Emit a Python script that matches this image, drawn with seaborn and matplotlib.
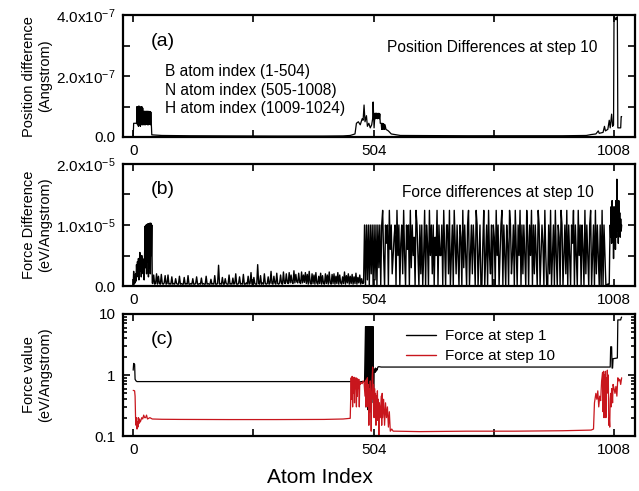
import numpy as np
import pandas as pd
import matplotlib
matplotlib.use("Agg")
import matplotlib.pyplot as plt
import seaborn as sns
from matplotlib.ticker import FixedLocator, FuncFormatter, LogLocator, NullFormatter

# ---------------- data ----------------
# Panel (a): position difference at step 10 (units of 1e-7 Angstrom)
pos_atom = [0, 1, 7,
            8, 9, 10, 11, 12, 13, 14, 15, 16, 17, 18, 19, 20, 21, 22,
            23, 24, 25, 26, 27, 28, 29, 30, 31, 32, 33, 34, 35, 36, 37, 38, 39,
            60, 120, 200, 300, 400, 440, 455, 465, 468, 472, 476, 480, 482, 484, 486,
            489, 491, 494, 497, 500, 502, 503, 505, 507, 508, 509, 510, 511, 512, 513,
            514, 515, 516, 517, 518, 520, 521, 522, 523, 524, 525, 526, 527, 528, 530,
            535, 541, 560, 700, 900, 950, 960, 970, 975, 977, 985, 988, 990, 995, 998,
            1000, 1003, 1005, 1007, 1008, 1011, 1012, 1013, 1015, 1016, 1022, 1023, 1024]
pos_diff = [0.02, 0.45, 0.45,
            1.0, 0.4, 1.0, 0.35, 1.02, 0.4, 1.0, 0.35, 0.98, 0.4, 1.0, 0.4, 0.95, 0.4, 0.45,
            0.85, 0.4, 0.84, 0.4, 0.85, 0.42, 0.84, 0.4, 0.85, 0.4, 0.83, 0.42, 0.84, 0.4, 0.82, 0.45, 0.07,
            0.05, 0.04, 0.035, 0.03, 0.03, 0.035, 0.05, 0.1, 0.45, 0.5, 0.4, 0.6, 0.55, 1.05, 0.5,
            0.7, 0.35, 0.45, 0.3, 0.4, 0.6, 1.15, 0.3, 0.78, 0.6, 0.78, 0.62, 0.78, 0.6, 0.77,
            0.62, 0.78, 0.6, 0.76, 0.45, 0.45, 0.25, 0.45, 0.25, 0.44, 0.26, 0.42, 0.25, 0.4, 0.25,
            0.2, 0.1, 0.05, 0.04, 0.04, 0.05, 0.08, 0.1, 0.2, 0.12, 0.15, 0.35, 0.2, 0.25, 0.55,
            0.3, 0.75, 0.35, 0.4, 3.95, 3.9, 3.85, 3.9, 3.95, 0.3, 0.3, 0.67, 0.67]

# Panel (b): force difference at step 10 (units of 1e-6 eV/Angstrom)
# atoms 0-40, one value per atom
fd_first = [0, 2.4, 0.3, 1.0, 0.5, 2.0, 0.8, 3.5, 1.5, 4.0, 2.0, 4.5, 1.0, 3.8, 5.5, 2.5,
            4.2, 1.5, 5.0, 3.0, 4.5, 2.0, 4.0, 1.0, 5.2, 9.8, 3.0, 10.0, 2.0, 10.1, 4.0,
            10.2, 1.5, 10.2, 3.0, 10.3, 2.0, 10.3, 5.0, 10.0, 0.5]
# atoms 41-483, every second atom
fd_low = [0.4, 1.8, 0.3, 0.4, 2.0, 0.3, 1.6, 0.4, 0.3, 1.9, 0.4, 0.3, 0.5, 1.7, 0.3, 0.4, 1.8, 0.3, 0.4, 0.3,
          1.5, 0.3, 0.4, 0.3, 1.2, 0.4, 0.3, 0.3, 1.6, 0.3, 0.4, 0.3, 0.3, 1.4, 0.3, 0.4, 0.3, 1.7, 0.3, 0.3,
          0.4, 0.3, 1.2, 0.3, 0.3, 0.4, 1.5, 0.3, 0.3, 0.4, 0.3, 1.3, 0.3, 0.4, 0.3, 0.3, 1.6, 0.3, 0.4, 0.3,
          0.3, 1.1, 0.3, 0.4, 0.3, 1.7, 0.3, 0.3, 0.4, 3.4, 0.3, 0.4, 0.3, 1.4, 0.3, 0.3, 1.2, 0.4, 0.3, 0.3,
          1.8, 0.3, 0.4, 0.3, 1.3, 0.3, 0.4, 2.0, 0.3, 0.3, 0.4, 1.5, 0.3, 0.4, 0.3, 1.9, 0.3, 0.3, 0.5, 0.3,
          1.6, 0.3, 0.4, 2.2, 0.3, 0.3, 1.4, 0.4, 0.3, 0.3, 3.5, 0.4, 0.3, 1.7, 0.3, 0.5, 0.3, 2.0, 0.4, 0.3,
          0.4, 1.5, 0.3, 0.5, 2.4, 0.4, 0.3, 1.6, 0.5, 0.3, 2.1, 0.4, 0.3, 0.5, 1.8, 0.4, 0.3, 2.3, 0.5, 0.4,
          2.0, 0.6, 0.4, 2.2, 0.5, 1.8, 0.6, 0.4, 2.5, 0.5, 1.9, 0.7, 0.5, 2.1, 0.6, 0.4, 2.3, 0.5, 1.8, 0.6,
          2.2, 0.4, 1.9, 0.3, 2.4, 0.5, 0.3, 2.0, 0.4, 1.8, 0.3, 2.2, 0.5, 0.3, 1.6, 0.4, 2.1, 0.3, 1.7, 0.4,
          0.3, 2.0, 0.4, 1.8, 0.3, 2.3, 0.5, 0.3, 1.9, 0.4, 2.0, 0.3, 1.6, 0.4, 2.2, 0.3, 1.8, 0.5, 0.3, 1.5,
          0.4, 2.3, 0.3, 1.7, 0.5, 2.0, 0.3, 1.6, 0.4, 1.9, 0.3, 1.5, 0.4, 2.1, 0.3, 1.4, 0.5, 1.8, 0.3, 1.2,
          0.4, 0.5]
# atoms 485-993, every second atom
fd_high = [10, 0, 10, 1, 10, 0, 10, 2, 10, 0, 10, 1, 10, 0, 10, 3, 10, 0, 10, 12.4,
           5, 0, 10, 7, 10, 0, 12.4, 6, 10, 2, 5, 8, 10, 0, 12.4, 5, 10, 0, 7, 10,
           2, 12.4, 5, 0, 10, 6, 10, 0, 12.4, 3, 10, 5, 8, 0, 12.4, 10, 5, 0, 10, 2,
           10, 0, 5, 12.4, 0, 10, 7, 0, 12.4, 5, 10, 2, 10, 0, 8, 5, 12.4, 0, 10, 5,
           5, 10, 0, 12.4, 6, 0, 10, 10, 2, 12.4, 0, 5, 10, 0, 12.4, 7, 2, 10, 5, 0,
           10, 8, 0, 12.4, 3, 10, 5, 0, 10, 12.4, 0, 5, 10, 2, 10, 6, 0, 12.4, 10, 0,
           5, 10, 0, 0, 7, 12.4, 0, 5, 10, 0, 12.4, 5, 2, 10, 0, 10, 8, 0, 12.4, 5,
           10, 0, 5, 10, 12.4, 0, 10, 5, 0, 10, 7, 0, 12.4, 10, 2, 5, 10, 0, 12.4, 6,
           0, 10, 5, 12.4, 0, 10, 2, 10, 5, 0, 12.4, 8, 0, 10, 5, 12.4, 0, 10, 2, 10,
           5, 0, 12.4, 10, 0, 5, 10, 7, 0, 12.4, 5, 0, 0, 10, 2, 12.4, 0, 5, 10, 0,
           12.4, 5, 0, 10, 8, 0, 12.4, 10, 0, 5, 10, 2, 12.4, 0, 10, 5, 0, 10, 7, 12.4,
           0, 10, 5, 0, 12.4, 5, 10, 0, 10, 6, 0, 12.4, 2, 10, 5, 0, 10, 12.4, 0, 5,
           10, 0, 12.4, 2, 10, 5, 0, 10, 0, 12.4, 0, 10, 5, 0, 0]
# atoms 994-1024, one value per atom
fd_end = [0.3, 0.2, 0.3, 0.2, 0.4, 6, 10, 8, 13, 7, 14, 9, 12, 4.5, 13, 10, 12, 6, 14, 8,
          17.5, 9, 13, 7, 14, 9, 12, 8, 11, 9, 10]

# Panel (c): force values (eV/Angstrom)
f1_atom = [0, 1, 3, 4, 6, 8, 485,
           487, 488, 489, 490, 491, 492, 493, 494, 495, 496, 497, 498, 499, 500, 501, 502, 503,
           504, 505, 506, 507, 508, 509, 510, 511, 513, 515, 520, 1000, 1001, 1003, 1004, 1005,
           1006, 1015, 1016, 1022, 1023, 1024]
f1_val = [1.2, 1.55, 1.5, 0.85, 0.8, 0.78, 0.78,
          6.2, 0.3, 6.2, 0.5, 6.2, 0.27, 6.2, 0.6, 6.2, 0.3, 6.2, 0.8, 6.2, 0.35, 6.2, 0.5, 6.2,
          0.4, 1.1, 1.25, 1.1, 1.3, 1.15, 1.25, 1.2, 1.35, 1.37, 1.35, 1.35, 2.9, 2.9, 1.3, 1.3,
          1.85, 1.9, 8.0, 8.0, 8.6, 8.9]
f10_atom = [0, 3, 4, 5, 6, 7, 8, 9, 10, 11, 12, 13, 15, 18, 20, 22, 24, 26, 28, 30, 35, 40,
            60, 100, 200, 300, 400, 440, 455,
            457, 458, 459, 460, 461, 462, 463, 464, 465, 466, 467, 468, 469, 470, 471, 472, 473,
            474, 475, 476, 478, 480, 482, 484, 486, 487, 488, 489, 490, 491, 492, 493, 494, 495,
            496, 497, 498, 499, 500, 501, 502, 503, 504, 505, 506, 507, 508, 509, 510, 511, 512,
            513, 514, 515, 516, 518, 520, 521, 522, 523, 525, 527, 529, 531, 533, 535, 537, 539,
            542, 545, 550, 600, 700, 800, 900, 960, 965, 967, 970, 972, 974, 976, 978, 980, 982,
            984, 985, 986, 987, 988, 989, 990, 991, 992, 993, 994, 995, 996, 997, 998, 999, 1000,
            1001, 1002, 1003, 1004, 1005, 1006, 1008, 1010, 1012, 1014, 1016, 1018, 1020, 1022, 1024]
f10_val = [0.56, 0.55, 0.45, 0.2, 0.15, 0.2, 0.13, 0.17, 0.14, 0.2, 0.16, 0.19, 0.17, 0.2, 0.19,
           0.22, 0.2, 0.2, 0.22, 0.19, 0.2, 0.19,
           0.188, 0.187, 0.186, 0.186, 0.187, 0.19, 0.195,
           0.9, 0.4, 0.95, 0.3, 0.9, 0.5, 0.92, 0.35, 0.85, 0.6, 0.9, 0.3, 0.88, 0.45, 0.8, 0.6, 0.85,
           0.3, 0.78, 0.7, 0.75, 0.72, 0.8, 0.75, 0.45, 0.8, 0.3, 0.85, 0.5, 0.9, 0.3, 0.7, 0.15, 0.6,
           0.25, 0.8, 0.35, 0.12, 0.5, 0.9, 1.35, 0.4, 0.7, 0.2, 0.6, 0.3, 0.5, 0.15, 0.45, 0.25, 0.55,
           0.18, 0.4, 0.1, 0.35, 0.2, 0.45, 0.15, 0.5, 0.2, 0.4, 0.15, 0.35, 0.2, 0.3, 0.14, 0.25, 0.12,
           0.13, 0.12, 0.12, 0.118, 0.12, 0.12, 0.122, 0.125, 0.13, 0.35, 0.5, 0.4, 0.55, 0.3, 0.45, 0.38, 0.8,
           1.1, 0.25, 1.15, 0.2, 1.0, 0.4, 1.15, 0.2, 0.9, 0.5, 1.2, 0.6, 1.0, 0.15, 0.2, 0.14, 0.4,
           0.5, 0.3, 0.6, 0.5, 0.35, 0.7, 0.6, 0.5, 0.65, 0.45, 0.9, 0.8, 0.85, 0.7, 0.9]

x_major = [0, 252, 504, 756, 1008]
x_labels = ["0", "", "504", "", "1008"]

# ---------------- styling ----------------
sns.set_theme(style="ticks")
plt.rcParams['font.family'] = ['Liberation Sans', 'DejaVu Sans']
plt.rcParams['mathtext.default'] = 'regular'
plt.rcParams['axes.linewidth'] = 1.5
for key in ("text.color", "axes.labelcolor", "xtick.color", "ytick.color",
            "axes.edgecolor"):
    plt.rcParams[key] = "black"
FS = 11

fig = plt.figure(figsize=(6.39, 4.91), dpi=100)
L, W = 0.192, 0.801
axA = fig.add_axes([L, 0.721, W, 0.248])
axB = fig.add_axes([L, 0.4175, W, 0.2485])
axC = fig.add_axes([L, 0.112, W, 0.2485])

# build dataframes
dfA = pd.DataFrame({"atom": pos_atom, "val": np.array(pos_diff) * 1e-7})
fd_x = np.concatenate([np.arange(0, len(fd_first)),
                       np.arange(41, 41 + 2 * len(fd_low), 2),
                       np.arange(485, 485 + 2 * len(fd_high), 2),
                       np.arange(994, 994 + len(fd_end))])
fd_y = np.concatenate([fd_first, fd_low, fd_high, fd_end]) * 1e-6
dfB = pd.DataFrame({"atom": fd_x, "val": fd_y})
dfC = pd.concat([
    pd.DataFrame({"atom": f1_atom, "val": f1_val, "series": "Force at step 1"}),
    pd.DataFrame({"atom": f10_atom, "val": f10_val, "series": "Force at step 10"}),
])

sns.lineplot(data=dfA, x="atom", y="val", ax=axA, color="black", lw=0.9,
             estimator=None, sort=False)
sns.lineplot(data=dfB, x="atom", y="val", ax=axB, color="black", lw=1.0,
             estimator=None, sort=False)
sns.lineplot(data=dfC, x="atom", y="val", hue="series", ax=axC,
             palette={"Force at step 1": "black", "Force at step 10": "#c8161d"},
             lw=0.9, estimator=None, sort=False)


def sci(exp):
    def f(v, p):
        if abs(v) < 1e-30:
            return "0.0"
        return f"{v / 10 ** exp:.1f}x10$^{{{exp}}}$"
    return f


for ax in (axA, axB, axC):
    ax.set_xlim(-22, 1051)
    ax.xaxis.set_major_locator(FixedLocator(x_major))
    ax.set_xticklabels(x_labels)
    ax.tick_params(which="both", direction="in", top=True, right=True,
                   labelsize=FS, width=1.2, color="black", labelcolor="black")
    ax.tick_params(which="major", length=5, pad=5)
    ax.tick_params(which="minor", length=3)
    ax.set_xlabel("")
    for s in ax.spines.values():
        s.set_linewidth(1.6)
        s.set_color("black")

axA.set_ylim(0, 4e-7)
axA.yaxis.set_major_locator(FixedLocator([0, 1e-7, 2e-7, 3e-7, 4e-7]))
axA.yaxis.set_major_formatter(FuncFormatter(
    lambda v, p: sci(-7)(v, p) if round(v / 1e-7) % 2 == 0 else ""))
axB.set_ylim(0, 2e-5)
axB.yaxis.set_major_locator(FixedLocator([0, 0.5e-5, 1e-5, 1.5e-5, 2e-5]))
axB.yaxis.set_major_formatter(FuncFormatter(
    lambda v, p: sci(-5)(v, p) if round(v / 0.5e-5) % 2 == 0 else ""))
axC.set_yscale("log")
axC.set_ylim(0.1, 10)
axC.yaxis.set_major_locator(FixedLocator([0.1, 1, 10]))
axC.yaxis.set_major_formatter(FuncFormatter(lambda v, p: f"{v:g}"))
axC.yaxis.set_minor_locator(LogLocator(base=10, subs=np.arange(2, 10)))
axC.yaxis.set_minor_formatter(NullFormatter())

for ax, lab in ((axA, "Position difference\n(Angstrom)"),
                (axB, "Force Difference\n(eV/Angstrom)"),
                (axC, "Force value\n(eV/Angstrom)")):
    ax.set_ylabel(lab, fontsize=10.5, linespacing=1.15, color="black")
    ax.yaxis.set_label_coords(-0.138, 0.5)

axC.set_xlabel("Atom Index", fontsize=15, color="black")
axC.xaxis.set_label_coords(0.386, -0.26)

# annotations
axA.text(0.055, 0.75, "(a)", transform=axA.transAxes, fontsize=14)
axA.text(0.517, 0.70, "Position Differences at step 10", transform=axA.transAxes, fontsize=11.2)
axA.text(0.083, 0.60, "B atom index (1-504)\nN atom index (505-1008)\nH atom index (1009-1024)",
         transform=axA.transAxes, fontsize=11.2, linespacing=1.3, va="top")
axB.text(0.055, 0.75, "(b)", transform=axB.transAxes, fontsize=14)
axB.text(0.546, 0.73, "Force differences at step 10", transform=axB.transAxes, fontsize=11.2)
axC.text(0.055, 0.75, "(c)", transform=axC.transAxes, fontsize=14)

leg = axC.legend(loc="upper left", bbox_to_anchor=(0.535, 0.95), frameon=False,
                 fontsize=FS, handlelength=2.0, handletextpad=0.6, labelspacing=0.4,
                 borderaxespad=0.2)
for t in leg.get_texts():
    t.set_color("black")
for h in leg.get_lines():
    h.set_linewidth(1.0)

fig.savefig("out.png", dpi=100)
